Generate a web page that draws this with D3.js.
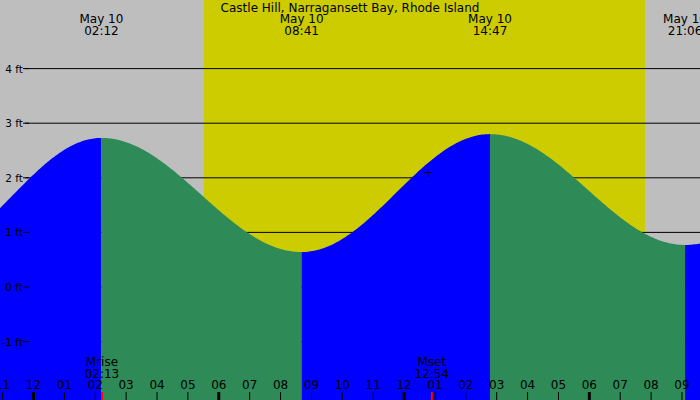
<!DOCTYPE html><html><head><script src="https://d3js.org/d3.v7.min.js"></script>
<style>body{margin:0}text{font-family:"DejaVu Sans",sans-serif;}</style></head><body><svg id="c" width="700" height="400"></svg>
<script>
const title="Castle Hill, Narragansett Bay, Rhode Island";
const tideTimes=[-3.6,2.2,8.683,14.783,21.1,27.4]; // hours from midnight May 10
const tideHeights=[0.6,2.73,0.64,2.8,0.77,2.7];
const topLabels=[["May 10","02:12",2.2],["May 10","08:41",8.683],["May 10","14:47",14.783],["May 10","21:06",21.1]];
const ftTicks=[-1,0,1,2,3,4];
const hourLabels=["11","12","01","02","03","04","05","06","07","08","09","10","11","12","01","02","03","04","05","06","07","08","09"];
const sun=[5.52,19.8];
const moonEvents=[["Mrise","02:13",2.217],["Mset","12:54",12.9]];
const svg=d3.select("#c");
const x=d3.scaleLinear().domain([0,1]).range([33.5,64.38]);
const y=d3.scaleLinear().domain([0,1]).range([287,232.4]);
svg.append("rect").attr("width",700).attr("height",400).attr("fill","#bebebe");
svg.append("rect").attr("x",x(sun[0])).attr("width",x(sun[1])-x(sun[0])).attr("y",0).attr("height",400).attr("fill","#cccc00");
const g=svg.append("g");
ftTicks.forEach(f=>{g.append("line").attr("x1",25).attr("x2",700).attr("y1",y(f)).attr("y2",y(f)).attr("stroke","#000");});
function h(t){for(let i=0;i<tideTimes.length-1;i++){const a=tideTimes[i],b=tideTimes[i+1];if(t>=a&&t<=b){const p=(t-a)/(b-a);return tideHeights[i]+(tideHeights[i+1]-tideHeights[i])*(1-Math.cos(Math.PI*p))/2;}}return tideHeights[0];}
for(let i=0;i<tideTimes.length-1;i++){
 const a=Math.max(tideTimes[i],x.invert(0)),b=Math.min(tideTimes[i+1],x.invert(700));if(a>=b)continue;
 const pts=d3.range(a,b,0.05).concat([b]);
 const area=d3.area().x(t=>x(t)).y0(400).y1(t=>y(h(t)));
 svg.append("path").datum(pts).attr("d",area).attr("fill",tideHeights[i+1]>tideHeights[i]?"#0000ff":"#2e8b57");
}
ftTicks.forEach(f=>{svg.append("text").attr("x",23).attr("y",y(f)+4).attr("text-anchor","end").attr("font-size",10.5).text(f+" ft");
 svg.append("line").attr("x1",23).attr("x2",29).attr("y1",y(f)).attr("y2",y(f)).attr("stroke","#000");});
svg.append("text").attr("x",350).attr("y",12).attr("text-anchor","middle").attr("font-size",12).text(title);
topLabels.forEach(d=>{const t=svg.append("text").attr("x",x(d[2])).attr("text-anchor","middle").attr("font-size",12);
 t.append("tspan").attr("x",x(d[2])).attr("y",23).text(d[0]);t.append("tspan").attr("x",x(d[2])).attr("y",35).text(d[1]);});
hourLabels.forEach((l,i)=>{const t=i-1;svg.append("text").attr("x",x(t)).attr("y",389).attr("text-anchor","middle").attr("font-size",12).text(l);
 svg.append("line").attr("x1",x(t)).attr("x2",x(t)).attr("y1",392).attr("y2",400).attr("stroke","#000").attr("stroke-width",(t%6===0)?3:1);});
moonEvents.forEach(d=>{svg.append("text").attr("x",x(d[2])).attr("y",366).attr("text-anchor","middle").attr("font-size",12).text(d[0]);
 svg.append("text").attr("x",x(d[2])).attr("y",378).attr("text-anchor","middle").attr("font-size",12).text(d[1]);
 svg.append("line").attr("x1",x(d[2])).attr("x2",x(d[2])).attr("y1",392).attr("y2",400).attr("stroke","#ff0000").attr("stroke-width",2);});
svg.append("text").attr("x",428).attr("y",177).attr("text-anchor","middle").attr("font-size",12).text("+");
</script></body></html>
